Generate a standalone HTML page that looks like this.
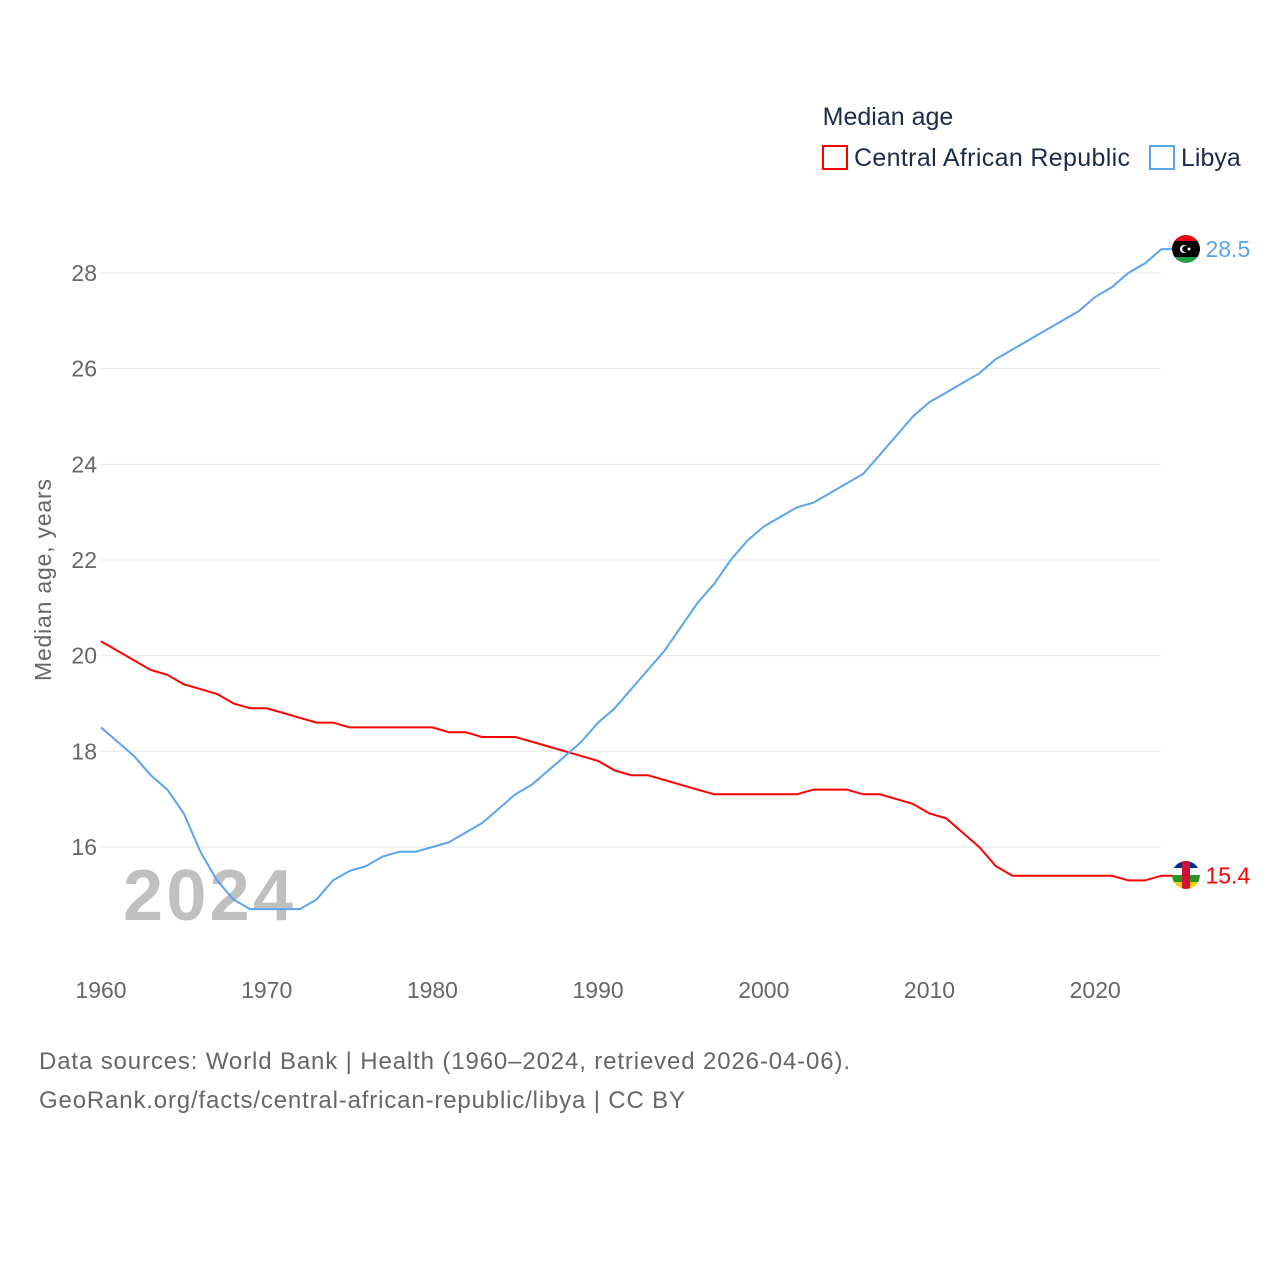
<!DOCTYPE html>
<html><head><meta charset="utf-8">
<style>
body{margin:0;background:#fff;font-family:"Liberation Sans",sans-serif;}
svg text{font-family:"Liberation Sans",sans-serif;}
</style></head>
<body>
<svg id="chart" width="1280" height="1280" xmlns="http://www.w3.org/2000/svg">
<defs>
<clipPath id="clipLibya"><circle cx="1186" cy="249" r="14"/></clipPath>
<clipPath id="clipCar"><circle cx="1186" cy="875" r="14"/></clipPath>
</defs>
<rect width="1280" height="1280" fill="#fff"/>
<g id="grid"></g>
<text x="888" y="125" font-size="25" fill="#1c2b4a" text-anchor="middle">Median age</text>
<rect x="823" y="146" width="24" height="23" fill="none" stroke="#ff0000" stroke-width="2"/>
<text x="854" y="166" font-size="25" fill="#1c2b4a" textLength="276">Central African Republic</text>
<rect x="1150" y="146" width="24" height="23" fill="none" stroke="#5ba4ec" stroke-width="2"/>
<text x="1181" y="166" font-size="25" fill="#1c2b4a">Libya</text>
<text transform="translate(51,580) rotate(-90)" font-size="23" fill="#666" text-anchor="middle" textLength="202">Median age, years</text>
<text x="123" y="920" font-size="72" font-weight="bold" fill="#c0c0c0" textLength="170">2024</text>
<g id="series"></g>
<g id="flags">
<g clip-path="url(#clipLibya)">
<rect x="1170" y="233" width="32" height="8" fill="#e70013"/>
<rect x="1170" y="241" width="32" height="16" fill="#000"/>
<rect x="1170" y="257" width="32" height="8" fill="#239e46"/>
<circle cx="1184" cy="249" r="4" fill="#fff"/><circle cx="1185.5" cy="249" r="3.3" fill="#000"/>
<circle cx="1189" cy="249" r="1.5" fill="#fff"/>
</g>
<g clip-path="url(#clipCar)">
<rect x="1170" y="861" width="32" height="7" fill="#003082"/>
<rect x="1170" y="868" width="32" height="7" fill="#fff"/>
<rect x="1170" y="875" width="32" height="7" fill="#289728"/>
<rect x="1170" y="882" width="32" height="8" fill="#ffce00"/>
<rect x="1182" y="861" width="8" height="29" fill="#d21034"/>
</g>
</g>
<text x="39" y="1069" font-size="24" fill="#666" textLength="811">Data sources: World Bank | Health (1960–2024, retrieved 2026-04-06).</text>
<text x="39" y="1108" font-size="24" fill="#666" textLength="646">GeoRank.org/facts/central-african-republic/libya | CC BY</text>
</svg>
<script>
const years=[];for(let y=1960;y<=2024;y++)years.push(y);
const carValues=[20.3,20.1,19.9,19.7,19.6,19.4,19.3,19.2,19.0,18.9,18.9,18.8,18.7,18.6,18.6,18.5,18.5,18.5,18.5,18.5,18.5,18.4,18.4,18.3,18.3,18.3,18.2,18.1,18.0,17.9,17.8,17.6,17.5,17.5,17.4,17.3,17.2,17.1,17.1,17.1,17.1,17.1,17.1,17.2,17.2,17.2,17.1,17.1,17.0,16.9,16.7,16.6,16.3,16.0,15.6,15.4,15.4,15.4,15.4,15.4,15.4,15.4,15.3,15.3,15.4];
const libyaValues=[18.5,18.2,17.9,17.5,17.2,16.7,15.9,15.3,14.9,14.7,14.7,14.7,14.7,14.9,15.3,15.5,15.6,15.8,15.9,15.9,16.0,16.1,16.3,16.5,16.8,17.1,17.3,17.6,17.9,18.2,18.6,18.9,19.3,19.7,20.1,20.6,21.1,21.5,22.0,22.4,22.7,22.9,23.1,23.2,23.4,23.6,23.8,24.2,24.6,25.0,25.3,25.5,25.7,25.9,26.2,26.4,26.6,26.8,27.0,27.2,27.5,27.7,28.0,28.2,28.5];
const yTicks=[16,18,20,22,24,26,28];
const xTicks=[1960,1970,1980,1990,2000,2010,2020];
const X=y=>101+(y-1960)*16.57;
const Y=v=>273+(28-v)*47.83;
const NS="http://www.w3.org/2000/svg";
const grid=document.getElementById('grid'),ser=document.getElementById('series');
function mk(tag,attrs,parent){const e=document.createElementNS(NS,tag);for(const k in attrs)e.setAttribute(k,attrs[k]);parent.appendChild(e);return e;}
yTicks.forEach(v=>{
 const l=mk('line',{x1:101,x2:1161,y1:Y(v),y2:Y(v),stroke:'#e6e6e6','stroke-width':1},grid);
 
 
 const t=mk('text',{x:97,y:Y(v)+8,'font-size':23,fill:'#666','text-anchor':'end'},grid);
 t.textContent=v;
 
 
});
xTicks.forEach(v=>{
 const t=mk('text',{x:X(v),y:998,'font-size':23,fill:'#666','text-anchor':'middle'},grid);
 t.textContent=v;
 
 
});
function line(vals,color,name,label){
 const last=vals[vals.length-1];
 let d=vals.map((v,i)=>(i?'L':'M')+X(years[i]).toFixed(1)+' '+Y(v).toFixed(1)).join(' ');
 d+=' L'+(X(2024)+12)+' '+Y(last).toFixed(1);
 const p=mk('path',{d:d,fill:'none',stroke:color,'stroke-width':2},ser);
 
 
 const t=mk('text',{x:X(2024)+44,y:Y(last)+8,'font-size':23,fill:color},ser);
 t.textContent=label;
 
 
}
line(carValues,'#ff0000','car','15.4');
line(libyaValues,'#5ba4ec','libya','28.5');
</script>
</body></html>
